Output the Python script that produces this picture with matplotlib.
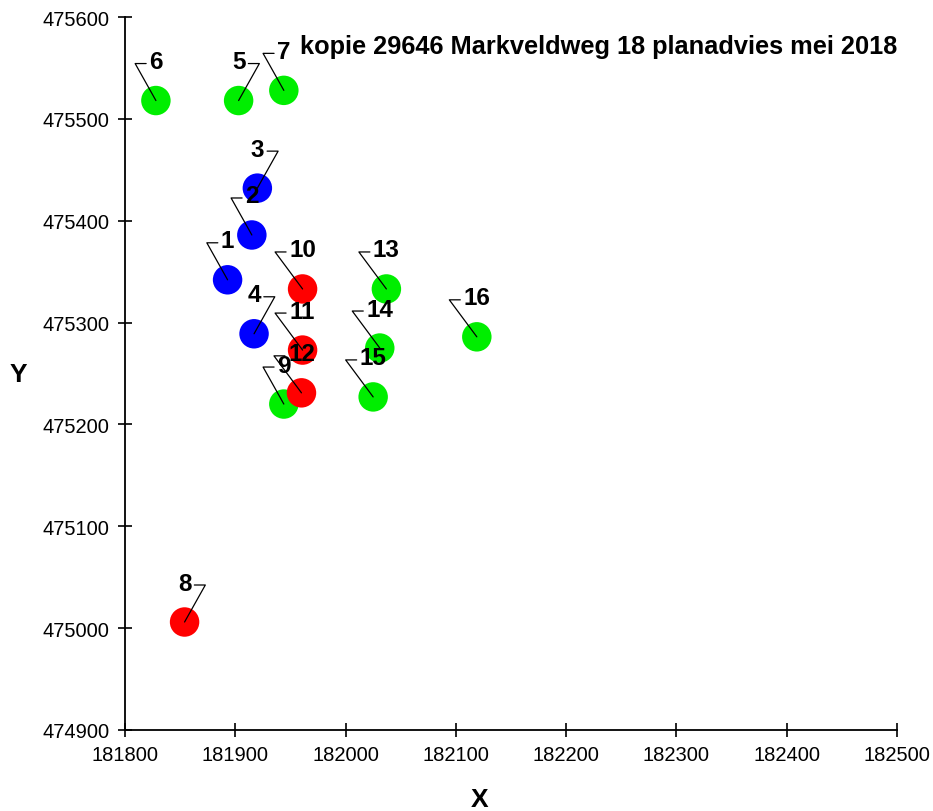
import math
import matplotlib
matplotlib.use("Agg")
import matplotlib.pyplot as plt

# ==========================
# DATA
# ==========================
punten = ["1", "2", "3", "4", "5", "6", "7", "8",
          "9", "10", "11", "12", "13", "14", "15", "16"]
x_coord = [181893, 181915, 181920, 181917, 181903, 181828, 181944, 181854,
           181944, 181961, 181961, 181960, 182037, 182031, 182025, 182119]
y_coord = [475342, 475386, 475432, 475289, 475518, 475518, 475528, 475006,
           475220, 475333, 475273, 475231, 475333, 475275, 475227, 475286]
groep = ["blauw", "blauw", "blauw", "blauw", "groen", "groen", "groen", "rood",
         "groen", "rood", "rood", "rood", "groen", "groen", "groen", "groen"]
# kant van het haakje bij het label (L = links, R = rechts)
kant = ["L", "L", "R", "R", "R", "L", "L", "R",
        "L", "L", "L", "L", "L", "L", "L", "L"]

x_ticks = [181800, 181900, 182000, 182100, 182200, 182300, 182400, 182500]
y_ticks = [474900, 475000, 475100, 475200, 475300, 475400, 475500, 475600]

titel = "kopie 29646 Markveldweg 18 planadvies mei 2018"

kleur_map = {"blauw": "#0000ff", "groen": "#00ee00", "rood": "#ff0000"}

plt.rcParams["font.family"] = ["Liberation Sans", "DejaVu Sans"]

# ==========================
# FIGUUR
# ==========================
fig = plt.figure(figsize=(9.33, 8.12), dpi=100)
ax = fig.add_axes([0.134, 0.0998, 0.8274, 0.878])

ax.scatter(x_coord, y_coord, s=450, c=[kleur_map[g] for g in groep],
           edgecolors="none", zorder=2)

pt = 0.72  # pixels -> points
for i in range(len(punten)):
    breedte = 13.5 * len(punten[i])
    teken = -1 if kant[i] == "L" else 1
    hoek_x = teken * (breedte / 2 + 14) * pt
    stomp_x = teken * (breedte / 2 + 3) * pt
    hoogte = 37 * pt
    ang = math.degrees(math.atan2(hoogte, hoek_x))

    ax.annotate("", xy=(x_coord[i], y_coord[i]), xytext=(stomp_x, hoogte),
                textcoords="offset points",
                arrowprops=dict(arrowstyle="-",
                                connectionstyle=f"angle,angleA=0,angleB={ang},rad=0",
                                shrinkA=0, shrinkB=0, lw=0.9, color="black"),
                zorder=3)
    ax.annotate(punten[i], xy=(x_coord[i], y_coord[i]), xytext=(0, 39 * pt),
                textcoords="offset points", ha="center", va="center",
                fontsize=17.5, fontweight="bold", zorder=4)

ax.set_xlim(181800, 182500)
ax.set_ylim(474900, 475600)
ax.set_xticks(x_ticks)
ax.set_yticks(y_ticks)
ax.set_xticklabels([str(v) for v in x_ticks])
ax.set_yticklabels([str(v) for v in y_ticks])

ax.spines["top"].set_visible(False)
ax.spines["right"].set_visible(False)
ax.spines["left"].set_linewidth(1.3)
ax.spines["bottom"].set_linewidth(1.3)
ax.tick_params(direction="inout", length=10, width=1.2, labelsize=14.5, pad=6)

fig.text(300 / 933, 1 - 47 / 812, titel, ha="left", va="center",
         fontsize=18.3, fontweight="bold")
fig.text(480 / 933, 1 - 800 / 812, "X", ha="center", va="center",
         fontsize=19, fontweight="bold")
fig.text(18 / 933, 1 - 375 / 812, "Y", ha="center", va="center",
         fontsize=19, fontweight="bold")

fig.savefig("out.png", dpi=100)
